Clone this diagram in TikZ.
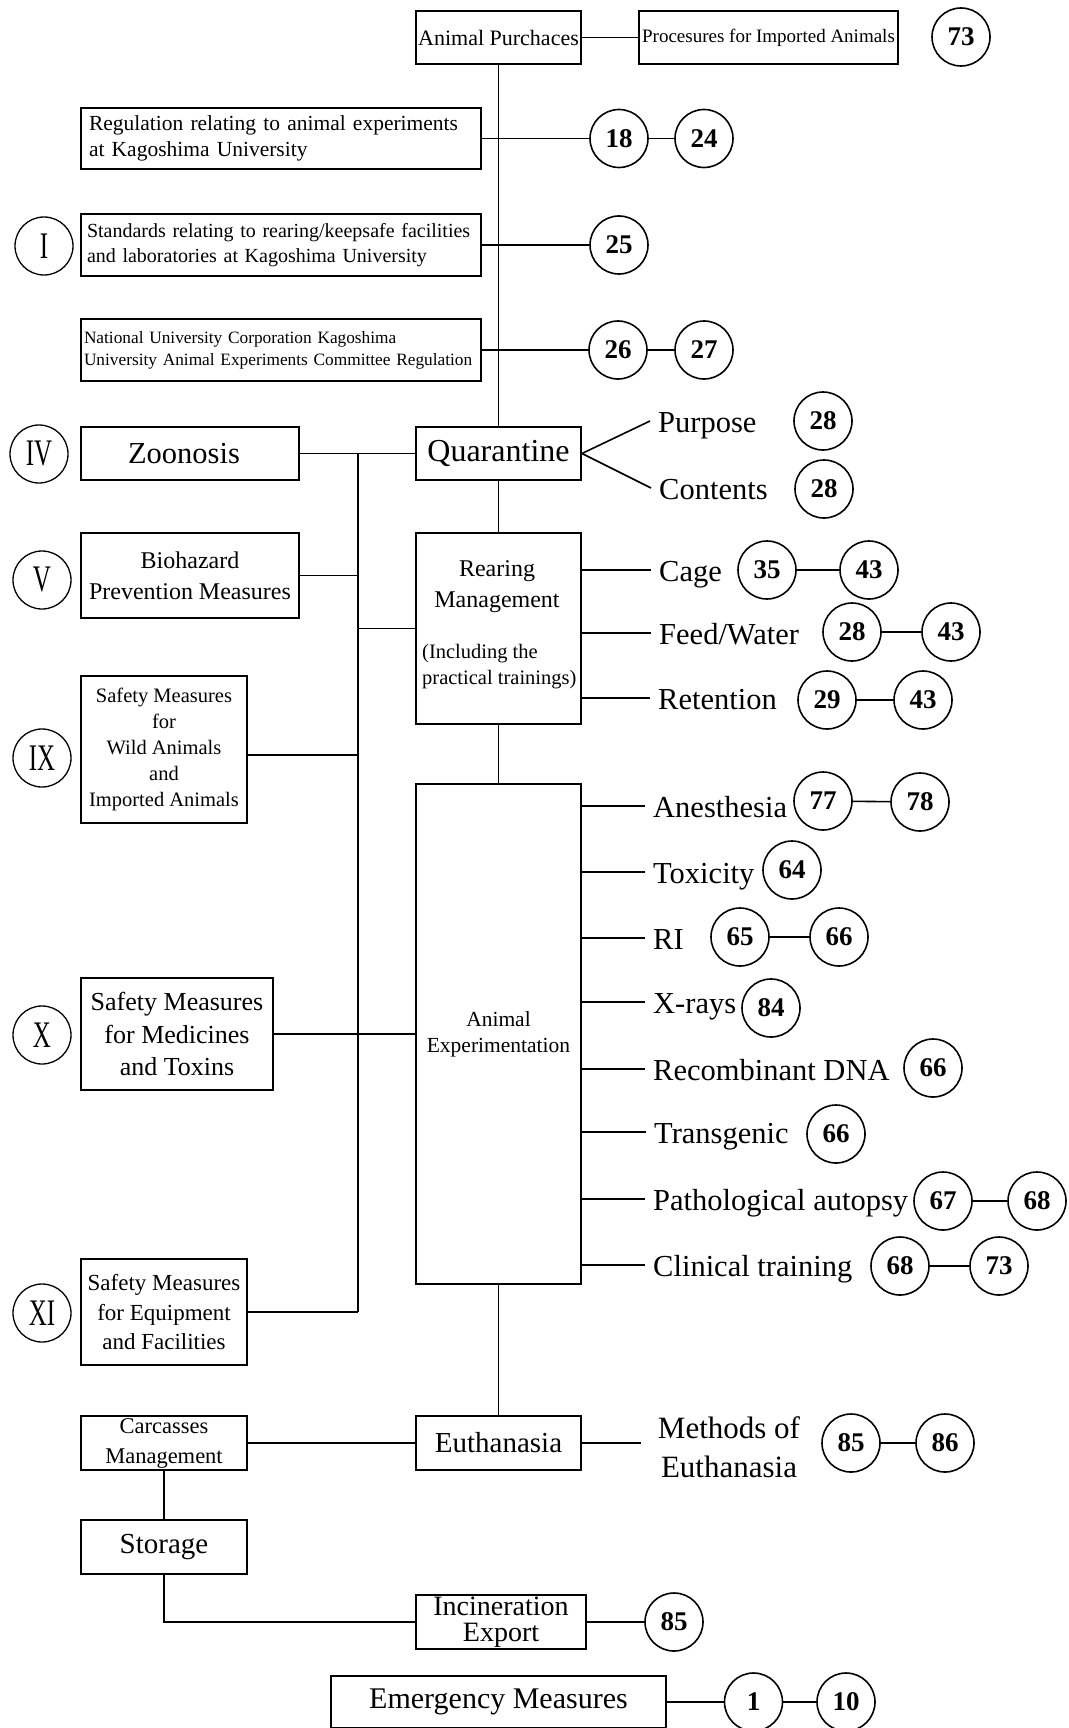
\documentclass[tikz,border=0pt]{standalone}
\usepackage{fontspec}
\setmainfont{Liberation Serif}
\newcommand\fsz[2]{\fontsize{#1pt}{#2pt}\selectfont}
\newcommand\romnum[1]{\scalebox{1}[1.5]{#1}}
\tikzset{
  bx/.style={draw, line width=2pt, inner sep=0pt, align=center},
  cn/.style={circle, draw, line width=1.6pt, minimum size=58pt, inner sep=0pt, font=\fsz{27}{30}\bfseries},
  rn/.style={circle, draw, line width=1.3pt, minimum size=58pt, inner sep=0pt, font=\fsz{25}{30}},
  lb/.style={anchor=west, inner xsep=8pt, inner ysep=0pt, text height=23pt, text depth=1pt, font=\fsz{30.5}{36}},
  ln/.style={line width=1.6pt},
}
\begin{document}
\begin{tikzpicture}[x=1pt, y=-1pt]
\fill[white] (0,0) rectangle (1068,1728);
\useasboundingbox (0,0) rectangle (1068,1728);

% top
\node[bx, minimum width=165pt, minimum height=53pt, font=\fsz{22}{26}] (purch) at (498.5,37.5) {Animal Purchaces};
\node[bx, minimum width=259pt, minimum height=53pt, font=\fsz{19}{23}] (proc) at (768.5,37.5) {Procesures for Imported Animals};
\node[cn] (n73) at (961,37) {73};

\node[bx, minimum width=400pt, minimum height=61pt, inner xsep=8pt, text width=384pt, align=left, font=\fsz{21.5}{26}] (reg) at (281,138.5) {Regulation relating to animal experiments\\at Kagoshima University};
\node[cn] (n18) at (619,138.5) {18};
\node[cn] (n24) at (704,138.5) {24};

\node[bx, minimum width=400pt, minimum height=62pt, inner xsep=6pt, text width=388pt, align=left, font=\fsz{20}{25}] (std) at (281,245) {Standards relating to rearing/keepsafe facilities\\and laboratories at Kagoshima University};
\node[rn] (rI) at (44,246) {\romnum{I}};
\node[cn] (n25) at (619,245) {25};

\node[bx, minimum width=400pt, minimum height=62pt, inner xsep=3pt, text width=394pt, align=left, font=\fsz{17.3}{22}] (nat) at (281,350) {National University Corporation Kagoshima\\University Animal Experiments Committee Regulation};
\node[cn] (n26) at (618,350) {26};
\node[cn] (n27) at (704,350) {27};

% quarantine row
\node[bx, minimum width=218pt, minimum height=53pt, font=\fsz{30.5}{36}] (zoo) at (190,453.5) {\hspace*{-12pt}Zoonosis};
\node[rn] (rIV) at (39,454) {\romnum{IV}};
\node[bx, minimum width=165pt, minimum height=53pt, font=\fsz{32}{36}] (quar) at (498.5,453.5) {Quarantine};
\node[lb] (lPurp) at (650,421) {Purpose};
\node[lb] (lCont) at (651,488) {Contents};
\node[cn] (n28a) at (823,421) {28};
\node[cn] (n28b) at (824,489) {28};

% rearing
\node[bx, minimum width=218pt, minimum height=85pt, font=\fsz{24}{31}] (bio) at (190,575.5) {Biohazard\\Prevention Measures};
\node[rn] (rV) at (42,580) {\romnum{V}};
\node[bx, minimum width=165pt, minimum height=191pt] (rear) at (498.5,628.5) {};
\node[align=center, inner sep=0pt, font=\fsz{24}{31}] (rearT1) at (497,587) {Rearing\\Management};
\node[anchor=west, align=left, inner sep=0pt, font=\fsz{20.5}{26}] (rearT2) at (422,667) {(Including the\\practical trainings)};
\node[lb] (lCage) at (651,570) {Cage};
\node[cn] (n35) at (767,570) {35};
\node[cn] (n43a) at (869,570) {43};
\node[lb] (lFeed) at (651,633) {Feed/Water};
\node[cn] (n28c) at (852,632) {28};
\node[cn] (n43b) at (951,632) {43};
\node[lb] (lRet) at (650,698) {Retention};
\node[cn] (n29) at (827,700) {29};
\node[cn] (n43c) at (923,700) {43};

\node[bx, minimum width=166pt, minimum height=147pt, font=\fsz{20.5}{26}] (ixb) at (164,749.5) {Safety Measures\\for\\Wild Animals\\and\\Imported Animals};
\node[rn] (rIX) at (42,758) {\romnum{IX}};

% animal experimentation
\node[bx, minimum width=165pt, minimum height=500pt, font=\fsz{21.5}{26}] (anim) at (498.5,1034) {Animal\\Experimentation};
\node[lb] (lAnes) at (645,806) {Anesthesia};
\node[cn] (n77) at (823,801) {77};
\node[cn] (n78) at (920,802) {78};
\node[lb] (lTox) at (645,872) {Toxicity};
\node[cn] (n64) at (792,870) {64};
\node[lb] (lRI) at (645,938) {RI};
\node[cn] (n65) at (740,937) {65};
\node[cn] (n66a) at (839,937) {66};
\node[lb] (lXray) at (645,1002) {X-rays};
\node[cn] (n84) at (771,1008) {84};
\node[lb] (lRec) at (645,1069) {Recombinant DNA};
\node[cn] (n66b) at (933,1068) {66};
\node[lb] (lTrans) at (646,1132) {Transgenic};
\node[cn] (n66c) at (836,1134) {66};
\node[lb] (lPath) at (645,1199) {Pathological autopsy};
\node[cn] (n67) at (943,1201) {67};
\node[cn] (n68a) at (1037,1201) {68};
\node[lb] (lClin) at (645,1265) {Clinical training};
\node[cn] (n68b) at (900,1266) {68};
\node[cn] (n73b) at (999,1266) {73};

\node[bx, minimum width=192pt, minimum height=112pt, font=\fsz{26}{32.5}] (xb) at (177,1034) {Safety Measures\\for Medicines\\and Toxins};
\node[rn] (rX) at (42,1035) {\romnum{X}};
\node[bx, minimum width=166pt, minimum height=106pt, font=\fsz{23}{29.5}] (xib) at (164,1312) {Safety Measures\\for Equipment\\and Facilities};
\node[rn] (rXI) at (42,1313) {\romnum{XI}};

% euthanasia
\node[bx, minimum width=166pt, minimum height=54pt, font=\fsz{22.5}{30}] (carc) at (164,1443) {Carcasses\\Management};
\node[bx, minimum width=165pt, minimum height=54pt, font=\fsz{29}{34}] (euth) at (498.5,1443) {Euthanasia};
\node[align=center, inner xsep=17pt, inner ysep=0pt, font=\fsz{31}{39}] (lMeth) at (729,1447) {Methods of\\Euthanasia};
\node[cn] (n85a) at (851,1443) {85};
\node[cn] (n86) at (945,1443) {86};
\node[bx, minimum width=166pt, minimum height=54pt, font=\fsz{29}{34}] (stor) at (164,1547) {Storage};
\node[bx, minimum width=170pt, minimum height=54pt, font=\fsz{28}{25.5}] (inc) at (501,1622) {Incineration\\Export};
\node[cn] (n85b) at (674,1622) {85};
\node[bx, minimum width=335pt, minimum height=52pt, font=\fsz{30}{36}] (emer) at (498.5,1702) {Emergency Measures};
\node[cn] (n1) at (753.5,1702) {1};
\node[cn] (n10) at (846,1702) {10};

% connectors
\coordinate (busTop) at (358,453.5);
\coordinate (busBot) at (358,1312);
\begin{scope}[ln]
\draw (purch) -- (proc);
\draw (purch.south) -- (quar.north);
\draw (reg.east) -- (n18.west);
\draw (n18) -- (n24);
\draw (std.east) -- (n25.west);
\draw (nat.east) -- (n26.west);
\draw (n26) -- (n27);
\draw (zoo.east) -- (quar.west);
\draw (quar.east) -- (lPurp.west);
\draw (quar.east) -- (lCont.west);
\draw (quar.south) -- (rear.north);
\draw (rear.south) -- (anim.north);
\draw (anim.south) -- (euth.north);
\draw (busTop) -- (busBot);
\draw (bio.east) -- (bio.east -| busTop);
\draw (rear.west -| busTop) -- (rear.west);
\draw ([yshift=-5.5pt]ixb.east) -- ([yshift=-5.5pt]ixb.east -| busTop);
\draw (xb.east) -- (anim.west);
\draw (xib.east) -- (busBot);
\draw (rear.east |- lCage.west) -- (lCage.west);
\draw (rear.east |- lFeed.west) -- (lFeed.west);
\draw (rear.east |- lRet.west) -- (lRet.west);
\draw (n35) -- (n43a);
\draw (n28c) -- (n43b);
\draw (n29) -- (n43c);
\draw (anim.east |- lAnes.west) -- (lAnes.west);
\draw (anim.east |- lTox.west) -- (lTox.west);
\draw (anim.east |- lRI.west) -- (lRI.west);
\draw (anim.east |- lXray.west) -- (lXray.west);
\draw (anim.east |- lRec.west) -- (lRec.west);
\draw (anim.east |- lTrans.west) -- (lTrans.west);
\draw (anim.east |- lPath.west) -- (lPath.west);
\draw (anim.east |- lClin.west) -- (lClin.west);
\draw (n77) -- (n78);
\draw (n65) -- (n66a);
\draw (n67) -- (n68a);
\draw (n68b) -- (n73b);
\draw (carc.east) -- (euth.west);
\draw (euth.east) -- (euth.east -| lMeth.west);
\draw (n85a) -- (n86);
\draw (carc.south) -- (stor.north);
\draw (stor.south) |- (inc.west);
\draw (inc.east) -- (n85b.west);
\draw (emer.east) -- (n1.west);
\draw (n1) -- (n10);
\end{scope}
\end{tikzpicture}
\end{document}
